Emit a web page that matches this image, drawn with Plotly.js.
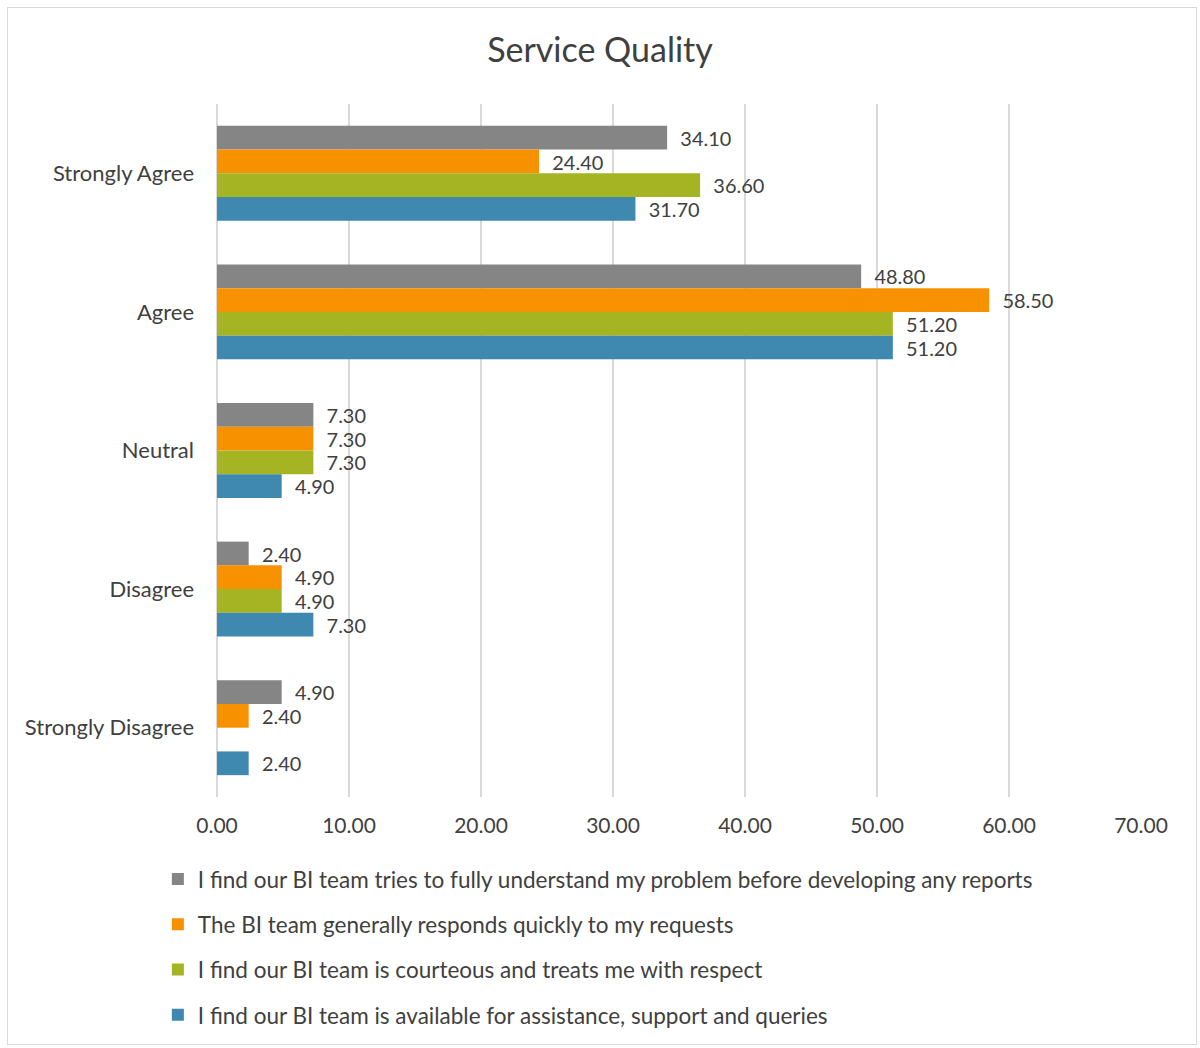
<!DOCTYPE html>
<html>
<head>
<meta charset="utf-8">
<script src="https://cdn.plot.ly/plotly-3.0.1.min.js"></script>
<style>
  html, body { margin: 0; padding: 0; background: #ffffff; }
  #chart { width: 1200px; height: 1048px; }
  #frame { position: absolute; left: 7px; top: 7px; width: 1188px; height: 1036px;
           border: 1px solid #d9d9d9; pointer-events: none; }
</style>
</head>
<body>
<div id="chart"></div>
<div id="frame"></div>
<script>
const categories = ["Strongly Agree", "Agree", "Neutral", "Disagree", "Strongly Disagree"];
const seriesNames = [
  "I find our BI team tries to fully understand my problem before developing any reports",
  "The BI team generally responds quickly to my requests",
  "I find our BI team is courteous and treats me with respect",
  "I find our BI team is available for assistance, support and queries"
];
const understandValues = [34.10, 48.80, 7.30, 2.40, 4.90];
const respondsValues   = [24.40, 58.50, 7.30, 4.90, 2.40];
const courteousValues  = [36.60, 51.20, 7.30, 4.90, null];
const availableValues  = [31.70, 51.20, 4.90, 7.30, 2.40];
const xTickValues = [0, 10, 20, 30, 40, 50, 60, 70];
const xTickLabels = ["0.00", "10.00", "20.00", "30.00", "40.00", "50.00", "60.00", "70.00"];

const seriesValues = [understandValues, respondsValues, courteousValues, availableValues];
const seriesColors = ["#858585", "#F89100", "#A5B422", "#3F88B0"];
const textColor = "#404040";
const fontFamily = "Lato, 'Open Sans', sans-serif";

const traces = seriesValues.map((vals, i) => ({
  type: "bar",
  orientation: "h",
  name: seriesNames[i],
  y: categories,
  x: vals,
  marker: { color: seriesColors[i] },
  text: vals.map(v => v === null ? "" : "\u00a0\u00a0" + v.toFixed(2)),
  textposition: "outside",
  textfont: { family: fontFamily, size: 21, color: textColor },
  cliponaxis: false,
  legendgroup: "g" + i,
  hoverinfo: "x+name"
}));

const layout = {
  width: 1200,
  height: 1048,
  paper_bgcolor: "#ffffff",
  plot_bgcolor: "#ffffff",
  margin: { l: 217, r: 59, t: 104, b: 251, autoexpand: false },
  barmode: "group",
  bargap: 0.315,
  bargroupgap: 0,
  title: {
    text: "Service Quality",
    font: { family: fontFamily, size: 34, color: "#404040" },
    x: 0.5, xanchor: "center",
    y: 1 - 50 / 1048, yanchor: "middle"
  },
  font: { family: fontFamily, color: textColor },
  xaxis: {
    range: [0, 70],
    tickvals: xTickValues,
    ticktext: xTickLabels,
    showgrid: true,
    gridcolor: "#d9d9d9",
    gridwidth: 2,
    zeroline: true,
    zerolinecolor: "#d9d9d9",
    zerolinewidth: 2,
    showline: false,
    ticks: "",
    ticklabelstandoff: 14,
    tickfont: { family: fontFamily, size: 21, color: textColor },
    fixedrange: true
  },
  yaxis: {
    type: "category",
    autorange: "reversed",
    showgrid: false,
    zeroline: false,
    showline: false,
    ticks: "",
    ticklabelstandoff: 22,
    tickfont: { family: fontFamily, size: 22, color: textColor },
    fixedrange: true
  },
  showlegend: true,
  legend: {
    orientation: "v",
    x: -0.064,
    xanchor: "left",
    y: -0.088,
    yanchor: "top",
    traceorder: "grouped",
    tracegroupgap: 13,
    font: { family: fontFamily, size: 22.5, color: textColor },
    itemwidth: 30,
    bgcolor: "rgba(0,0,0,0)"
  }
};

Plotly.newPlot("chart", traces, layout, { displayModeBar: false, staticPlot: false });
</script>
</body>
</html>
